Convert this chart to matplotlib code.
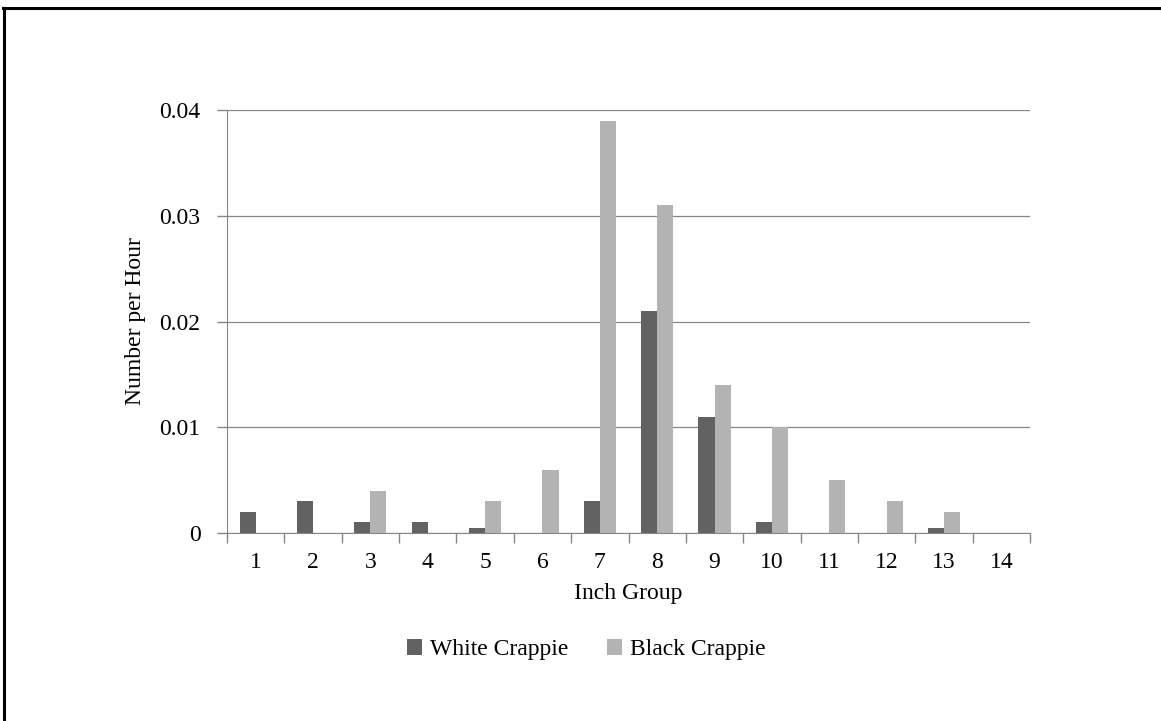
import matplotlib
matplotlib.use('Agg')
import matplotlib.pyplot as plt
from matplotlib.lines import Line2D
import numpy as np

# Daten
inch_groups = ['1', '2', '3', '4', '5', '6', '7', '8', '9', '10', '11', '12', '13', '14']
white_crappie = [0.002, 0.003, 0.001, 0.001, 0.0005, 0, 0.003, 0.021, 0.011, 0.001, 0, 0, 0.0005, 0]
black_crappie = [0, 0, 0.004, 0, 0.003, 0.006, 0.039, 0.031, 0.014, 0.010, 0.005, 0.003, 0.002, 0]

plt.rcParams['font.family'] = ['Liberation Serif', 'DejaVu Serif']
fs = 17

fig = plt.figure(figsize=(11.61, 7.21), dpi=100)
ax = fig.add_axes([0.1955, 0.2607, 0.6917, 0.5867])

x = np.arange(len(inch_groups))
w = 0.28
ax.bar(x - w / 2, white_crappie, w, color='#626262', label='White Crappie', zorder=3)
ax.bar(x + w / 2, black_crappie, w, color='#b3b3b3', label='Black Crappie', zorder=3)

ax.set_xlim(-0.5, len(inch_groups) - 0.5)
ax.set_ylim(0, 0.04)
ax.set_yticks([0, 0.01, 0.02, 0.03, 0.04])
ax.set_yticklabels(['0', '0.01', '0.02', '0.03', '0.04'])
ax.set_xticks(x)
ax.set_xticklabels(inch_groups)
ax.set_xticks(np.arange(-0.5, len(inch_groups)), minor=True)
ax.tick_params(axis='x', which='major', length=0, pad=14, labelsize=fs)
ax.tick_params(axis='x', which='minor', length=7, color='#868686', width=1)
ax.tick_params(axis='y', length=7, color='#868686', width=1, labelsize=fs, pad=12)

ax.grid(axis='y', color='#868686', linewidth=0.9, zorder=0)
for s in ['top', 'right']:
    ax.spines[s].set_visible(False)
for s in ['left', 'bottom']:
    ax.spines[s].set_color('#868686')
    ax.spines[s].set_zorder(4)

ax.set_xlabel('Inch Group', fontsize=fs, labelpad=7)
ax.set_ylabel('Number per Hour', fontsize=fs, labelpad=10)

fig.legend(loc='center', bbox_to_anchor=(0.505, 0.099), ncol=2, frameon=False,
           fontsize=fs, handlelength=0.65, handleheight=0.65, handletextpad=0.35,
           columnspacing=1.6)

# Rahmen oben und links
fig.add_artist(Line2D([0.003, 1.0], [0.989, 0.989], color='black', linewidth=2.2,
                      transform=fig.transFigure))
fig.add_artist(Line2D([0.0035, 0.0035], [0.0, 0.989], color='black', linewidth=2.2,
                      transform=fig.transFigure))

fig.savefig('out.png', dpi=100)
